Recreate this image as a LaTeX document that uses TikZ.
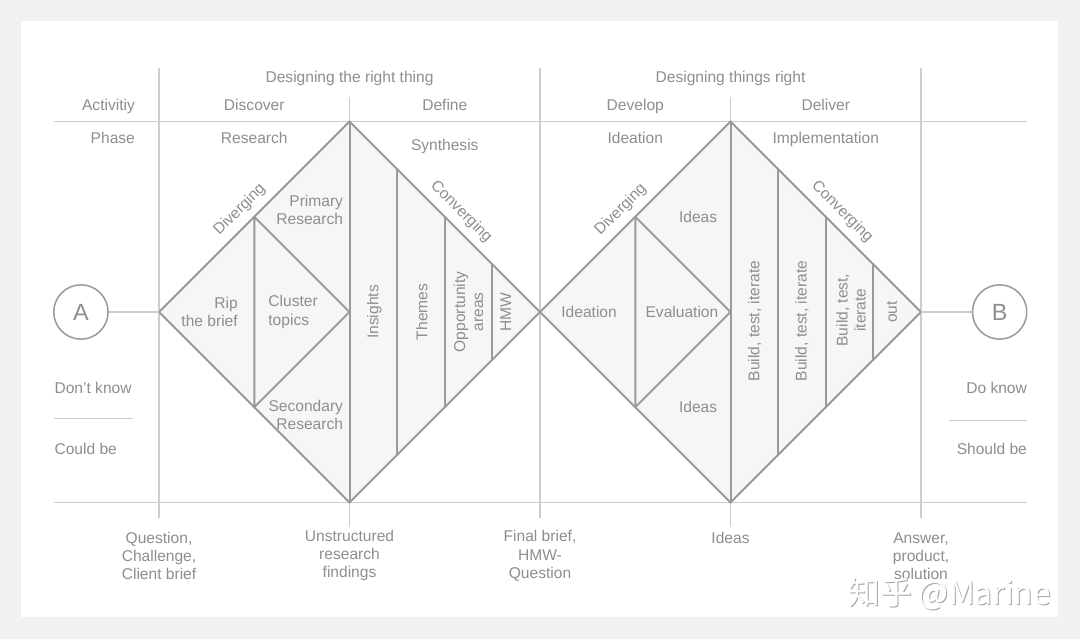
\documentclass[tikz,border=0pt]{standalone}
\usepackage{fontspec}
\setmainfont{Liberation Sans}
\newfontfamily\cjkfont{Noto Sans CJK SC}
\definecolor{fondo}{HTML}{F1F1F1}
\definecolor{linea}{HTML}{9A9A9A}
\definecolor{rejilla}{HTML}{CDCDCD}
\definecolor{texto}{HTML}{8E8E8E}
\definecolor{relleno}{HTML}{F6F6F6}

\begin{document}
\begin{tikzpicture}[line join=miter,
    txt/.style={text=texto, inner sep=0pt, align=center, font=\fontsize{9.3}{10.8}\selectfont},
    fila/.style={txt, anchor=base},
    grid/.style={draw=rejilla, line width=0.7pt},
    dia/.style={draw=linea, line width=1.2pt},
    punto/.style={circle, draw=linea, line width=0.9pt, minimum size=1.14cm, inner sep=0pt,
                  text=texto, font=\fontsize{14}{14}\selectfont}]
  % fondo y hoja
  \useasboundingbox[fill=fondo] (-3.339,-6.866) rectangle (19.338,6.551);
  \fill[white] (-2.898,-6.404) rectangle (18.877,6.110);

  % rejilla
  \draw[grid] (-2.2,4) -- (18.23,4);
  \draw[grid] (-2.2,-4) -- (18.23,-4);
  \foreach \x in {0,8,16} \draw[grid] (\x,5.12) -- (\x,-4.33);
  \foreach \x in {4,12} \draw[grid] (\x,4.51) -- (\x,-4.51);

  % rombos
  \foreach \n/\o in {1/0, 2/8} {
    \begin{scope}[xshift=\o cm]
      \coordinate (d\n-w) at (0,0);
      \coordinate (d\n-n) at (4,4);
      \coordinate (d\n-e) at (8,0);
      \coordinate (d\n-s) at (4,-4);
      \fill[relleno] (d\n-w) -- (d\n-n) -- (d\n-e) -- (d\n-s) -- cycle;
      % divergente
      \draw[dia] (2,2) -- (2,-2) (2,2) -- (4,0) -- (2,-2);
      % convergente
      \draw[dia] (4,4) -- (4,-4) (5,3) -- (5,-3) (6,2) -- (6,-2) (7,1) -- (7,-1);
      \draw[dia] (d\n-w) -- (d\n-n) -- (d\n-e) -- (d\n-s) -- cycle;
      \path (d\n-w) -- (d\n-n) node[txt, pos=0.48, sloped, above=4.5pt] (div\n) {Diverging};
      \path (d\n-n) -- (d\n-e) node[txt, pos=0.53, sloped, above=4.5pt] (conv\n) {Converging};
    \end{scope}
  }

  % A y B
  \node[punto] (A) at (-1.64,0) {A};
  \node[punto] (B) at (17.65,0) {B};
  \draw[grid] (A) -- (d1-w);
  \draw[grid] (d2-e) -- (B);

  % cabecera
  \node[fila] (dr1) at (4,4.81) {Designing the right thing};
  \node[fila] (dr2) at (12,4.81) {Designing things right};
  \node[fila, anchor=base east] (act) at (-0.5,4.23) {Activitiy};
  \node[fila, anchor=base east] (pha) at (-0.5,3.53) {Phase};
  \node[fila] (disc) at (2,4.23) {Discover};
  \node[fila] (defi) at (6,4.23) {Define};
  \node[fila] (deve) at (10,4.23) {Develop};
  \node[fila] (deli) at (14,4.23) {Deliver};
  \node[fila] (rese) at (2,3.53) {Research};
  \node[fila] (synt) at (6,3.39) {Synthesis};
  \node[fila] (idea) at (10,3.53) {Ideation};
  \node[fila] (impl) at (14,3.53) {Implementation};

  % rombo 1
  \node[txt, align=right, anchor=east] (rip) at (1.66,0) {Rip\\the brief};
  \node[txt, align=left, anchor=west] (clu) at (2.29,0) {Cluster\\topics};
  \node[txt, align=right, anchor=east] (pri) at (3.87,2.14) {Primary\\Research};
  \node[txt, align=right, anchor=east] (sec) at (3.87,-2.16) {Secondary\\Research};
  \node[txt, rotate=90] (ins) at (4.52,0) {Insights};
  \node[txt, rotate=90] (the) at (5.52,0) {Themes};
  \node[txt, rotate=90] (opp) at (6.5,0) {Opportunity\\areas};
  \node[txt, rotate=90] (hmw) at (7.28,0) {HMW};

  % rombo 2
  \node[txt] (ide) at (9.03,0) {Ideation};
  \node[txt] (eva) at (10.98,0) {Evaluation};
  \node[txt] (ida) at (11.32,1.99) {Ideas};
  \node[txt] (idb) at (11.32,-1.99) {Ideas};
  \node[txt, rotate=90] (bti1) at (12.51,-0.19) {Build, test, iterate};
  \node[txt, rotate=90] (bti2) at (13.5,-0.19) {Build, test, iterate};
  \node[txt, rotate=90] (bti3) at (14.53,0.04) {Build, test,\\iterate};
  \node[txt, rotate=90] (out) at (15.39,0) {out};

  % saber / ser
  \node[fila, anchor=base west] (dk) at (-2.2,-1.72) {Don't know};
  \node[fila, anchor=base west] (cb) at (-2.2,-3.0) {Could be};
  \draw[grid] (-2.2,-2.23) -- (-0.55,-2.23);
  \node[fila, anchor=base east] (dok) at (18.23,-1.72) {Do know};
  \node[fila, anchor=base east] (sb) at (18.23,-3.0) {Should be};
  \draw[grid] (16.59,-2.27) -- (18.23,-2.27);

  % resultados
  \node[txt] (r1) at (0,-5.12) {Question,\\Challenge,\\Client brief};
  \node[txt] (r2) at (4,-5.12) {Unstructured\\research\\findings};
  \node[txt] (r3) at (8,-5.12) {Final brief,\\HMW-\\Question};
  \node[txt] (r4) at (12,-4.75) {Ideas};
  \node[txt] (r5) at (16,-5.12) {Answer,\\product,\\solution};

  % marca
  \node[font=\cjkfont\fontsize{19}{19}\selectfont, text=gray!70, inner sep=0pt] (marca-s) at (16.62,-5.93) {知乎 @Marine};
  \node[font=\cjkfont\fontsize{19}{19}\selectfont, text=white, inner sep=0pt] (marca) at (16.6,-5.91) {知乎 @Marine};
\end{tikzpicture}
\end{document}
